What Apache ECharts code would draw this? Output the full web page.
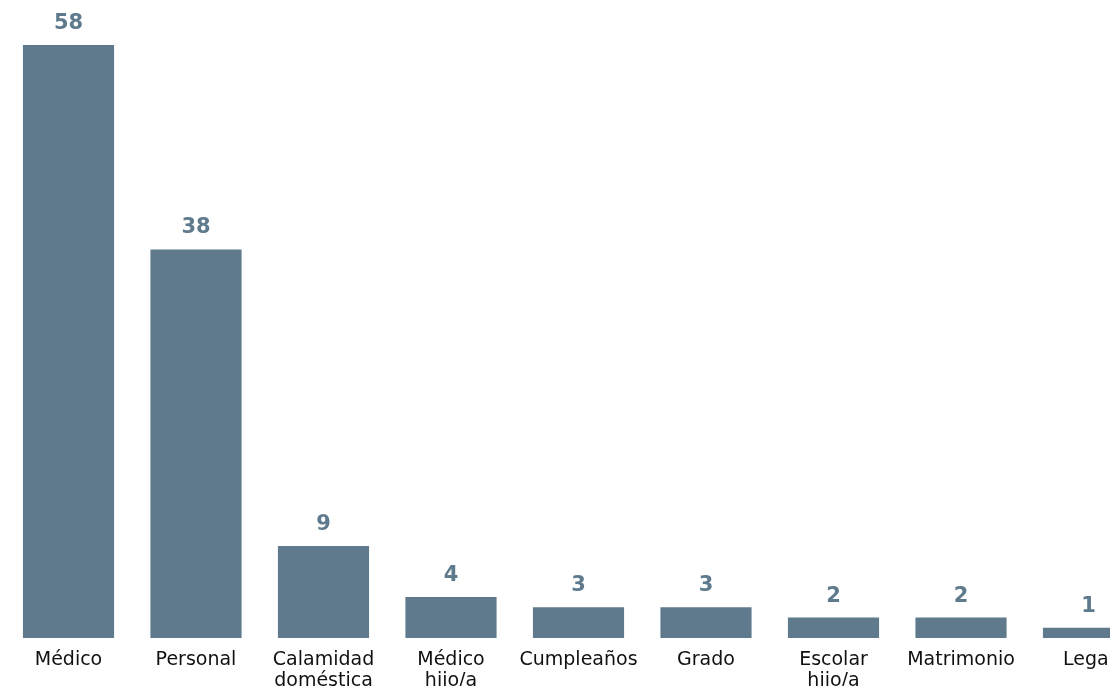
<!DOCTYPE html>
<html>
<head>
<meta charset="utf-8">
<script src="https://cdn.jsdelivr.net/npm/echarts@6/dist/echarts.min.js"></script>
<style>
html, body { margin: 0; padding: 0; overflow: hidden; background: #ffffff; }
#chart { width: 1160px; height: 720px; }
</style>
</head>
<body>
<div id="chart"></div>
<script>
const categories = ["Médico", "Personal", "Calamidad doméstica", "Médico hijo/a", "Cumpleaños", "Grado", "Escolar hijo/a", "Matrimonio", "Legal"];
const values = [58, 38, 9, 4, 3, 3, 2, 2, 1];

const chart = echarts.init(document.getElementById('chart'));
chart.setOption({
  animation: false,
  grid: { left: 4.75, right: 7.75, top: 45, bottom: 82, containLabel: false },
  xAxis: {
    type: 'category',
    data: categories,
    axisLine: { show: false },
    axisTick: { show: false },
    axisLabel: {
      interval: 0,
      margin: 12,
      color: '#111111',
      fontFamily: 'DejaVu Sans',
      fontSize: 19,
      lineHeight: 21,
      formatter: v => v.replace(' ', '\n')
    }
  },
  yAxis: {
    type: 'value',
    min: 0,
    max: 58,
    show: false,
    splitLine: { show: false }
  },
  series: [{
    type: 'bar',
    data: values,
    barWidth: '71.5%',
    itemStyle: { color: '#5e7a8c' },
    label: {
      show: true,
      position: 'top',
      distance: 11,
      color: '#5e7a8c',
      fontFamily: 'DejaVu Sans',
      fontWeight: 'bold',
      fontSize: 21
    }
  }]
});
</script>
</body>
</html>
